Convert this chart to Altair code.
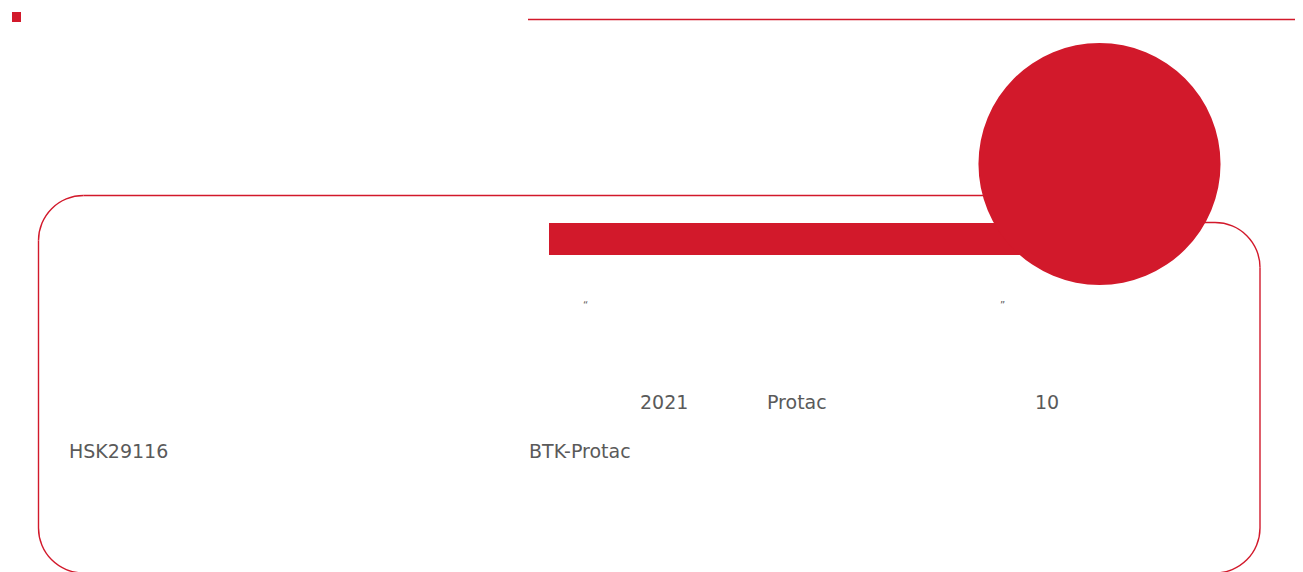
import math
import altair as alt
import pandas as pd

RED = "#D2192B"
GREY = "#5a5a5a"

# ---- page geometry (reference pixel space) ----
X_DOMAIN = [8, 1295]
Y_DOMAIN = [8, 572]
W = X_DOMAIN[1] - X_DOMAIN[0]
H = Y_DOMAIN[1] - Y_DOMAIN[0]

# small square marker (top-left)
square_x0 = [12]
square_x1 = [21]
square_y0 = [12]
square_y1 = [22]

# horizontal rules: top header line + frame straight edges
hline_x0 = [528, 83.5, 1100, 83.5]
hline_x1 = [1296, 1000, 1215, 1215]
hline_y = [19.5, 195.5, 222.5, 573]

vline_x = [38.5, 1260]
vline_y0 = [240.5, 267.5]
vline_y1 = [528, 528]

# rounded frame corners (center, start/end angle in degrees)
corner_cx = [83.5, 1215, 1215, 83.5]
corner_cy = [240.5, 267.5, 528, 528]
corner_a0 = [270, 0, 90, 180]
corner_a1 = [360, 90, 180, 270]
CORNER_R = 45

# red banner bar
bar_x0 = [549]
bar_x1 = [1040]
bar_y0 = [223]
bar_y1 = [255]

# big red circle
circle_cx = [1099.5]
circle_cy = [164]
circle_r = [121]

# text labels
label_text = ["“", "”", "2021", "Protac", "10", "HSK29116", "BTK-Protac"]
label_x = [583, 1000, 640, 767, 1035, 69, 529]
label_y = [309, 309, 409, 409, 409, 458, 458]
label_size = [10, 10, 19, 19, 19, 19, 19]

xs = alt.Scale(domain=X_DOMAIN, range=[0, W], nice=False, zero=False)
ys = alt.Scale(domain=Y_DOMAIN, range=[0, H], nice=False, zero=False)


def X(f):
    return alt.X(f, type="quantitative", scale=xs, axis=None)


def Y(f):
    return alt.Y(f, type="quantitative", scale=ys, axis=None)


sq = alt.Chart(pd.DataFrame({"x0": square_x0, "x1": square_x1, "y0": square_y0, "y1": square_y1})).mark_rect(
    color=RED
).encode(x=X("x0"), x2="x1", y=Y("y0"), y2="y1")

hl = alt.Chart(pd.DataFrame({"x0": hline_x0, "x1": hline_x1, "y": hline_y})).mark_rule(
    color=RED, strokeWidth=1.4, clip=True
).encode(x=X("x0"), x2="x1", y=Y("y"))

vl = alt.Chart(pd.DataFrame({"x": vline_x, "y0": vline_y0, "y1": vline_y1})).mark_rule(
    color=RED, strokeWidth=1.4, clip=True
).encode(x=X("x"), y=Y("y0"), y2="y1")

corners = (
    alt.Chart(pd.DataFrame({"cx": corner_cx, "cy": corner_cy, "a0": corner_a0, "a1": corner_a1}))
    .transform_calculate(t0="datum.a0 * PI / 180", t1="datum.a1 * PI / 180")
    .mark_arc(color=RED, clip=True)
    .encode(
        x=X("cx"),
        y=Y("cy"),
        theta=alt.Theta("t0:Q", scale=None, stack=None),
        theta2=alt.Theta2("t1:Q"),
        radius=alt.value(CORNER_R + 0.7),
        radius2=alt.value(CORNER_R - 0.7),
    )
)

bar = alt.Chart(pd.DataFrame({"x0": bar_x0, "x1": bar_x1, "y0": bar_y0, "y1": bar_y1})).mark_rect(
    color=RED
).encode(x=X("x0"), x2="x1", y=Y("y0"), y2="y1")

circ = alt.Chart(pd.DataFrame({"cx": circle_cx, "cy": circle_cy, "r": circle_r})).transform_calculate(
    t0="0", t1="2 * PI"
).mark_arc(color=RED).encode(
    x=X("cx"),
    y=Y("cy"),
    theta=alt.Theta("t0:Q", scale=None, stack=None),
    theta2=alt.Theta2("t1:Q"),
    radius=alt.Radius("r:Q", scale=None),
)

txt = alt.Chart(
    pd.DataFrame({"t": label_text, "x": label_x, "y": label_y, "s": label_size})
).mark_text(align="left", baseline="alphabetic", font="DejaVu Sans", color=GREY).encode(
    x=X("x"), y=Y("y"), text="t:N", size=alt.Size("s:Q", scale=None, legend=None)
)

chart = (
    alt.layer(hl, vl, corners, sq, bar, circ, txt)
    .properties(width=W, height=H, padding=0, background="white", autosize="none")
    .configure_view(stroke=None)
)

chart.save("out.html", embed_options={"renderer": "svg", "actions": False})
